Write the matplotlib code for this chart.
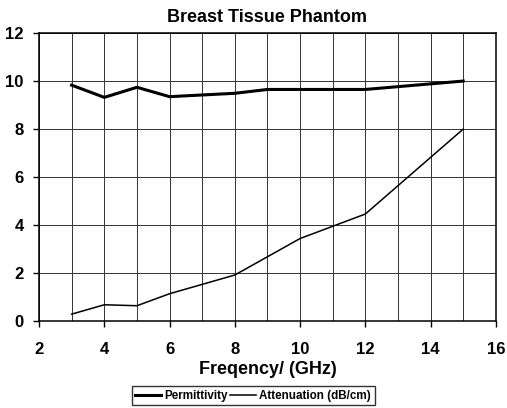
import matplotlib.pyplot as plt
from matplotlib.ticker import MultipleLocator

plt.rcParams['font.family'] = ['Liberation Sans', 'DejaVu Sans']
plt.rcParams['font.weight'] = 'bold'

# data
freq_perm = [3, 4, 5, 6, 8, 9, 12, 15]
permittivity = [9.83, 9.32, 9.74, 9.35, 9.49, 9.65, 9.65, 10.0]
freq_att = [3, 4, 5, 6, 8, 10, 12, 15]
attenuation = [0.29, 0.68, 0.64, 1.14, 1.92, 3.44, 4.46, 8.0]

fig = plt.figure(figsize=(5.07, 4.08), dpi=100)
ax = fig.add_axes([0.077, 0.213, 0.901, 0.706])

ax.plot(freq_perm, permittivity, color='black', lw=2.2, label='Permittivity')
ax.plot(freq_att, attenuation, color='black', lw=1.1, label='Attenuation (dB/cm)')

ax.set_xlim(2, 16)
ax.set_ylim(0, 12)
ax.xaxis.set_major_locator(MultipleLocator(2))
ax.xaxis.set_minor_locator(MultipleLocator(1))
ax.yaxis.set_major_locator(MultipleLocator(2))
ax.grid(which='major', color='#333333', lw=0.7)
ax.grid(which='minor', axis='x', color='#333333', lw=0.7)
ax.tick_params(which='major', labelsize=12, length=4, width=1, direction='out')
ax.tick_params(axis='x', which='major', pad=11)
ax.tick_params(axis='y', which='major', pad=7)
ax.tick_params(which='minor', length=0)
for s in ax.spines.values():
    s.set_linewidth(1.1)

ax.set_title('Breast Tissue Phantom', fontsize=13, fontweight='bold', pad=8)
ax.set_xlabel('Freqency/ (GHz)', fontsize=13, fontweight='bold', labelpad=3)

leg = ax.legend(loc='upper center', bbox_to_anchor=(0.469, -0.226), ncol=2,
                frameon=True, fancybox=False, edgecolor='black',
                prop={'size': 8.4, 'weight': 'bold'},
                handlelength=2.2, columnspacing=0.2, handletextpad=0.3,
                borderpad=0.3, borderaxespad=0)
leg.get_frame().set_linewidth(1.0)

fig.savefig('out.png', dpi=100)
